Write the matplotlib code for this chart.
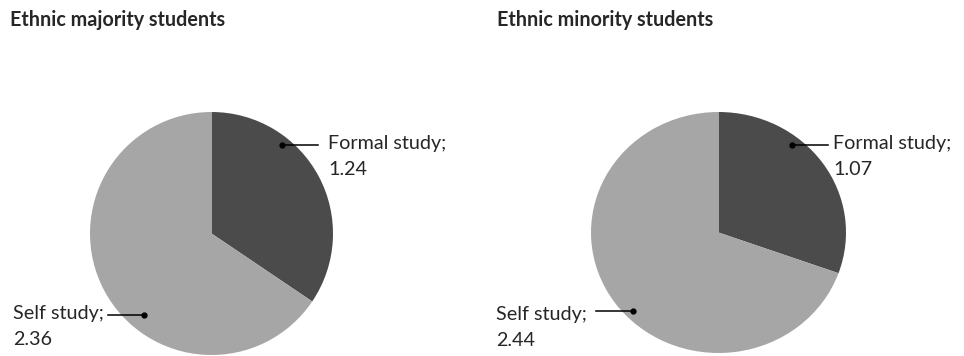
import matplotlib.pyplot as plt

# time use (hours) by study type
groups = ['Ethnic majority students', 'Ethnic minority students']
categories = ['Formal study', 'Self study']
majority = [1.24, 2.36]
minority = [1.07, 2.44]
colors = ['#4b4b4b', '#a6a6a6']

plt.rcParams['font.family'] = ['Lato', 'DejaVu Sans']

W, H = 964, 356
fig = plt.figure(figsize=(W / 100, H / 100), dpi=100)


def px_axes(x0, y0, x1, y1):
    # pixel box measured from top-left of the image
    return fig.add_axes([x0 / W, 1 - y1 / H, (x1 - x0) / W, (y1 - y0) / H])


def px(x, y):
    return (x / W, 1 - y / H)


boxes = [(90, 112, 333, 355), (591, 112, 846, 353)]
# label placement: (dot, line end, text left, first baseline) per slice, in pixels
label_pos = [
    [((282, 145), (318, 145), 328, 149.5), ((144, 315), (108, 315), 13, 319.5)],
    [((792, 145), (828, 145), 833, 149.5), ((633, 311), (596, 311), 496, 320)],
]

for vals, title, box, lp, tx in zip([majority, minority], groups, boxes, label_pos, [10, 497]):
    ax = px_axes(*box)
    ax.pie(vals, colors=colors, startangle=90, counterclock=False, radius=1,
           wedgeprops=dict(linewidth=0))
    ax.set_aspect('auto')
    ax.set_xlim(-1, 1)
    ax.set_ylim(-1, 1)
    ax.axis('off')
    fig.text(*px(tx, 26), title, fontsize=14.2, fontweight='bold', color='#262626',
             va='baseline')
    for cat, v, (dot, end, x, y) in zip(categories, vals, lp):
        fig.add_artist(plt.Line2D([dot[0] / W, end[0] / W], [1 - dot[1] / H, 1 - end[1] / H],
                                  transform=fig.transFigure, color='black', lw=1.1))
        fig.add_artist(plt.Line2D([dot[0] / W], [1 - dot[1] / H], transform=fig.transFigure,
                                  marker='o', ms=3.5, color='black'))
        fig.text(*px(x, y), f'{cat};', fontsize=14.2, color='#262626', va='baseline')
        fig.text(*px(x, y + 25.5), f'{v:.2f}', fontsize=14.2, color='#262626', va='baseline')

fig.savefig('out.png', dpi=100, facecolor='white')
